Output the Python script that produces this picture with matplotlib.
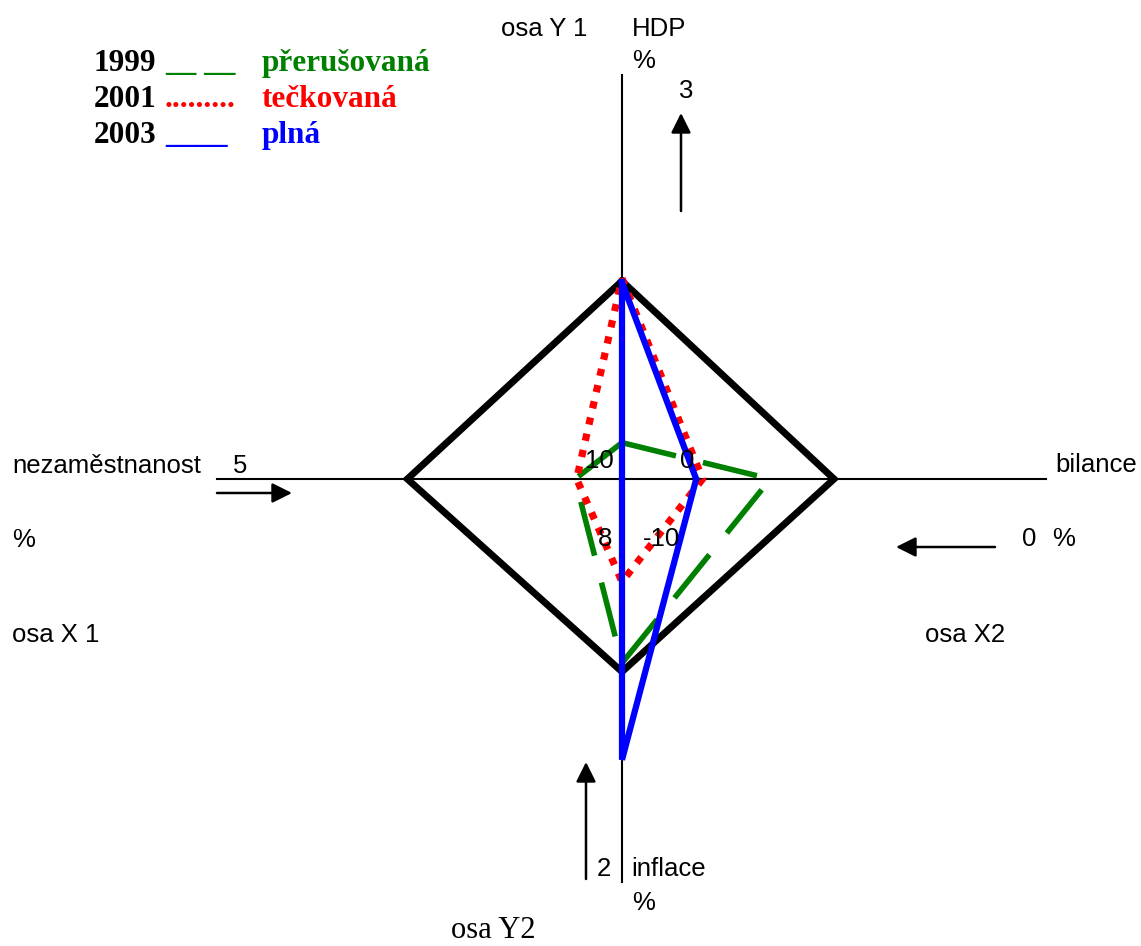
import matplotlib
matplotlib.use("Agg")
import matplotlib.pyplot as plt

# magický čtyřúhelník - values per axis: HDP, bilance, inflace, nezaměstnanost
axis_names = ["HDP", "bilance", "inflace", "nezaměstnanost"]
center_vals = [0, -10, 8, 10]     # value at the crossing point
end_vals = [3, 0, 2, 5]           # value at the outer end of the axis

ref_vals = [1.47, -5.0, 5.13, 7.35]
years = ["1999", "2001", "2003"]
vals_1999 = [0.27, -6.5, 5.26, 9.42]
vals_2001 = [1.49, -8.1, 6.47, 9.44]
vals_2003 = [1.46, -8.25, 3.82, 10.0]
styles = ["přerušovaná", "tečkovaná", "plná"]
marks = ["__ __", ".........", "____"]
colors = ["green", "red", "blue"]

# layout in pixels (figure 1141 x 946)
cx, cy = 622, 479
end_len = [404, 424, 403, 405]
dirs = [(0, -1), (1, 0), (0, 1), (-1, 0)]


def to_xy(vals):
    xs, ys = [], []
    for i, v in enumerate(vals):
        d = (v - center_vals[i]) / (end_vals[i] - center_vals[i]) * end_len[i]
        xs.append(cx + dirs[i][0] * d)
        ys.append(cy + dirs[i][1] * d)
    return xs + xs[:1], ys + ys[:1]


fig = plt.figure(figsize=(11.41, 9.46), dpi=100)
ax = fig.add_axes([0, 0, 1, 1])
ax.set_xlim(0, 1141)
ax.set_ylim(946, 0)
ax.axis("off")

# axes of the quadrangle
ax.plot([cx, cx], [75, 882], color="k", lw=1.5)
ax.plot([217, 1046], [cy, cy], color="k", lw=1.5)

xs, ys = to_xy(ref_vals)
ax.plot(xs, ys, color="k", lw=5, solid_joinstyle="miter")

xs, ys = to_xy(vals_1999)
ax.plot(xs, ys, color=colors[0], lw=4, linestyle=(0, (10, 5)),
        dash_capstyle="butt")
xs, ys = to_xy(vals_2001)
ax.plot(xs, ys, color=colors[1], lw=5.2, linestyle=(0, (1.0, 1.3)),
        dash_capstyle="butt")
xs, ys = to_xy(vals_2003)
ax.plot(xs, ys, color=colors[2], lw=4.5, solid_joinstyle="miter")

# arrows
arw = dict(arrowstyle="-|>", color="k", lw=1.8, mutation_scale=30,
           shrinkA=0, shrinkB=0)
ax.annotate("", xy=(681, 113), xytext=(681, 211), arrowprops=arw)
ax.annotate("", xy=(586, 762), xytext=(586, 879), arrowprops=arw)
ax.annotate("", xy=(292, 493), xytext=(217, 493), arrowprops=arw)
ax.annotate("", xy=(896, 547), xytext=(995, 547), arrowprops=arw)

sans = ["Liberation Sans", "DejaVu Sans"]
fs = 18.5
labels = [
    (501, 36, "osa Y 1"), (632, 36, "HDP"), (632, 68, "%"), (679, 98, "3"),
    (12, 473, "nezaměstnanost"), (233, 473, "5"), (12, 547, "%"),
    (12, 642, "osa X 1"), (1055, 472, "bilance"), (1022, 546, "0"),
    (1052, 546, "%"), (925, 642, "osa X2"), (597, 876, "2"),
    (631, 876, "inflace"), (632, 910, "%"),
    (585, 468, "10"), (680, 468, "0"), (598, 546, "8"), (643, 546, "-10"),
]
for x, y, s in labels:
    ax.text(x, y, s, fontsize=fs, family=sans, va="baseline", ha="left")

ax.text(451, 938, "osa Y2", fontsize=22, family="Liberation Serif",
        va="baseline", ha="left")

# hand made legend
serif = ["Liberation Serif", "DejaVu Serif"]
for i, yr in enumerate(years):
    yb = 71 + i * 36
    ax.text(94, yb, yr, fontsize=22.5, family=serif, weight="bold",
            va="baseline")
    ax.text(165, yb, marks[i], fontsize=22.5, family=serif, weight="bold",
            color=colors[i], va="baseline")
    ax.text(262, yb, styles[i], fontsize=22.5, family=serif, weight="bold",
            color=colors[i], va="baseline")

fig.savefig("out.png", dpi=100)
